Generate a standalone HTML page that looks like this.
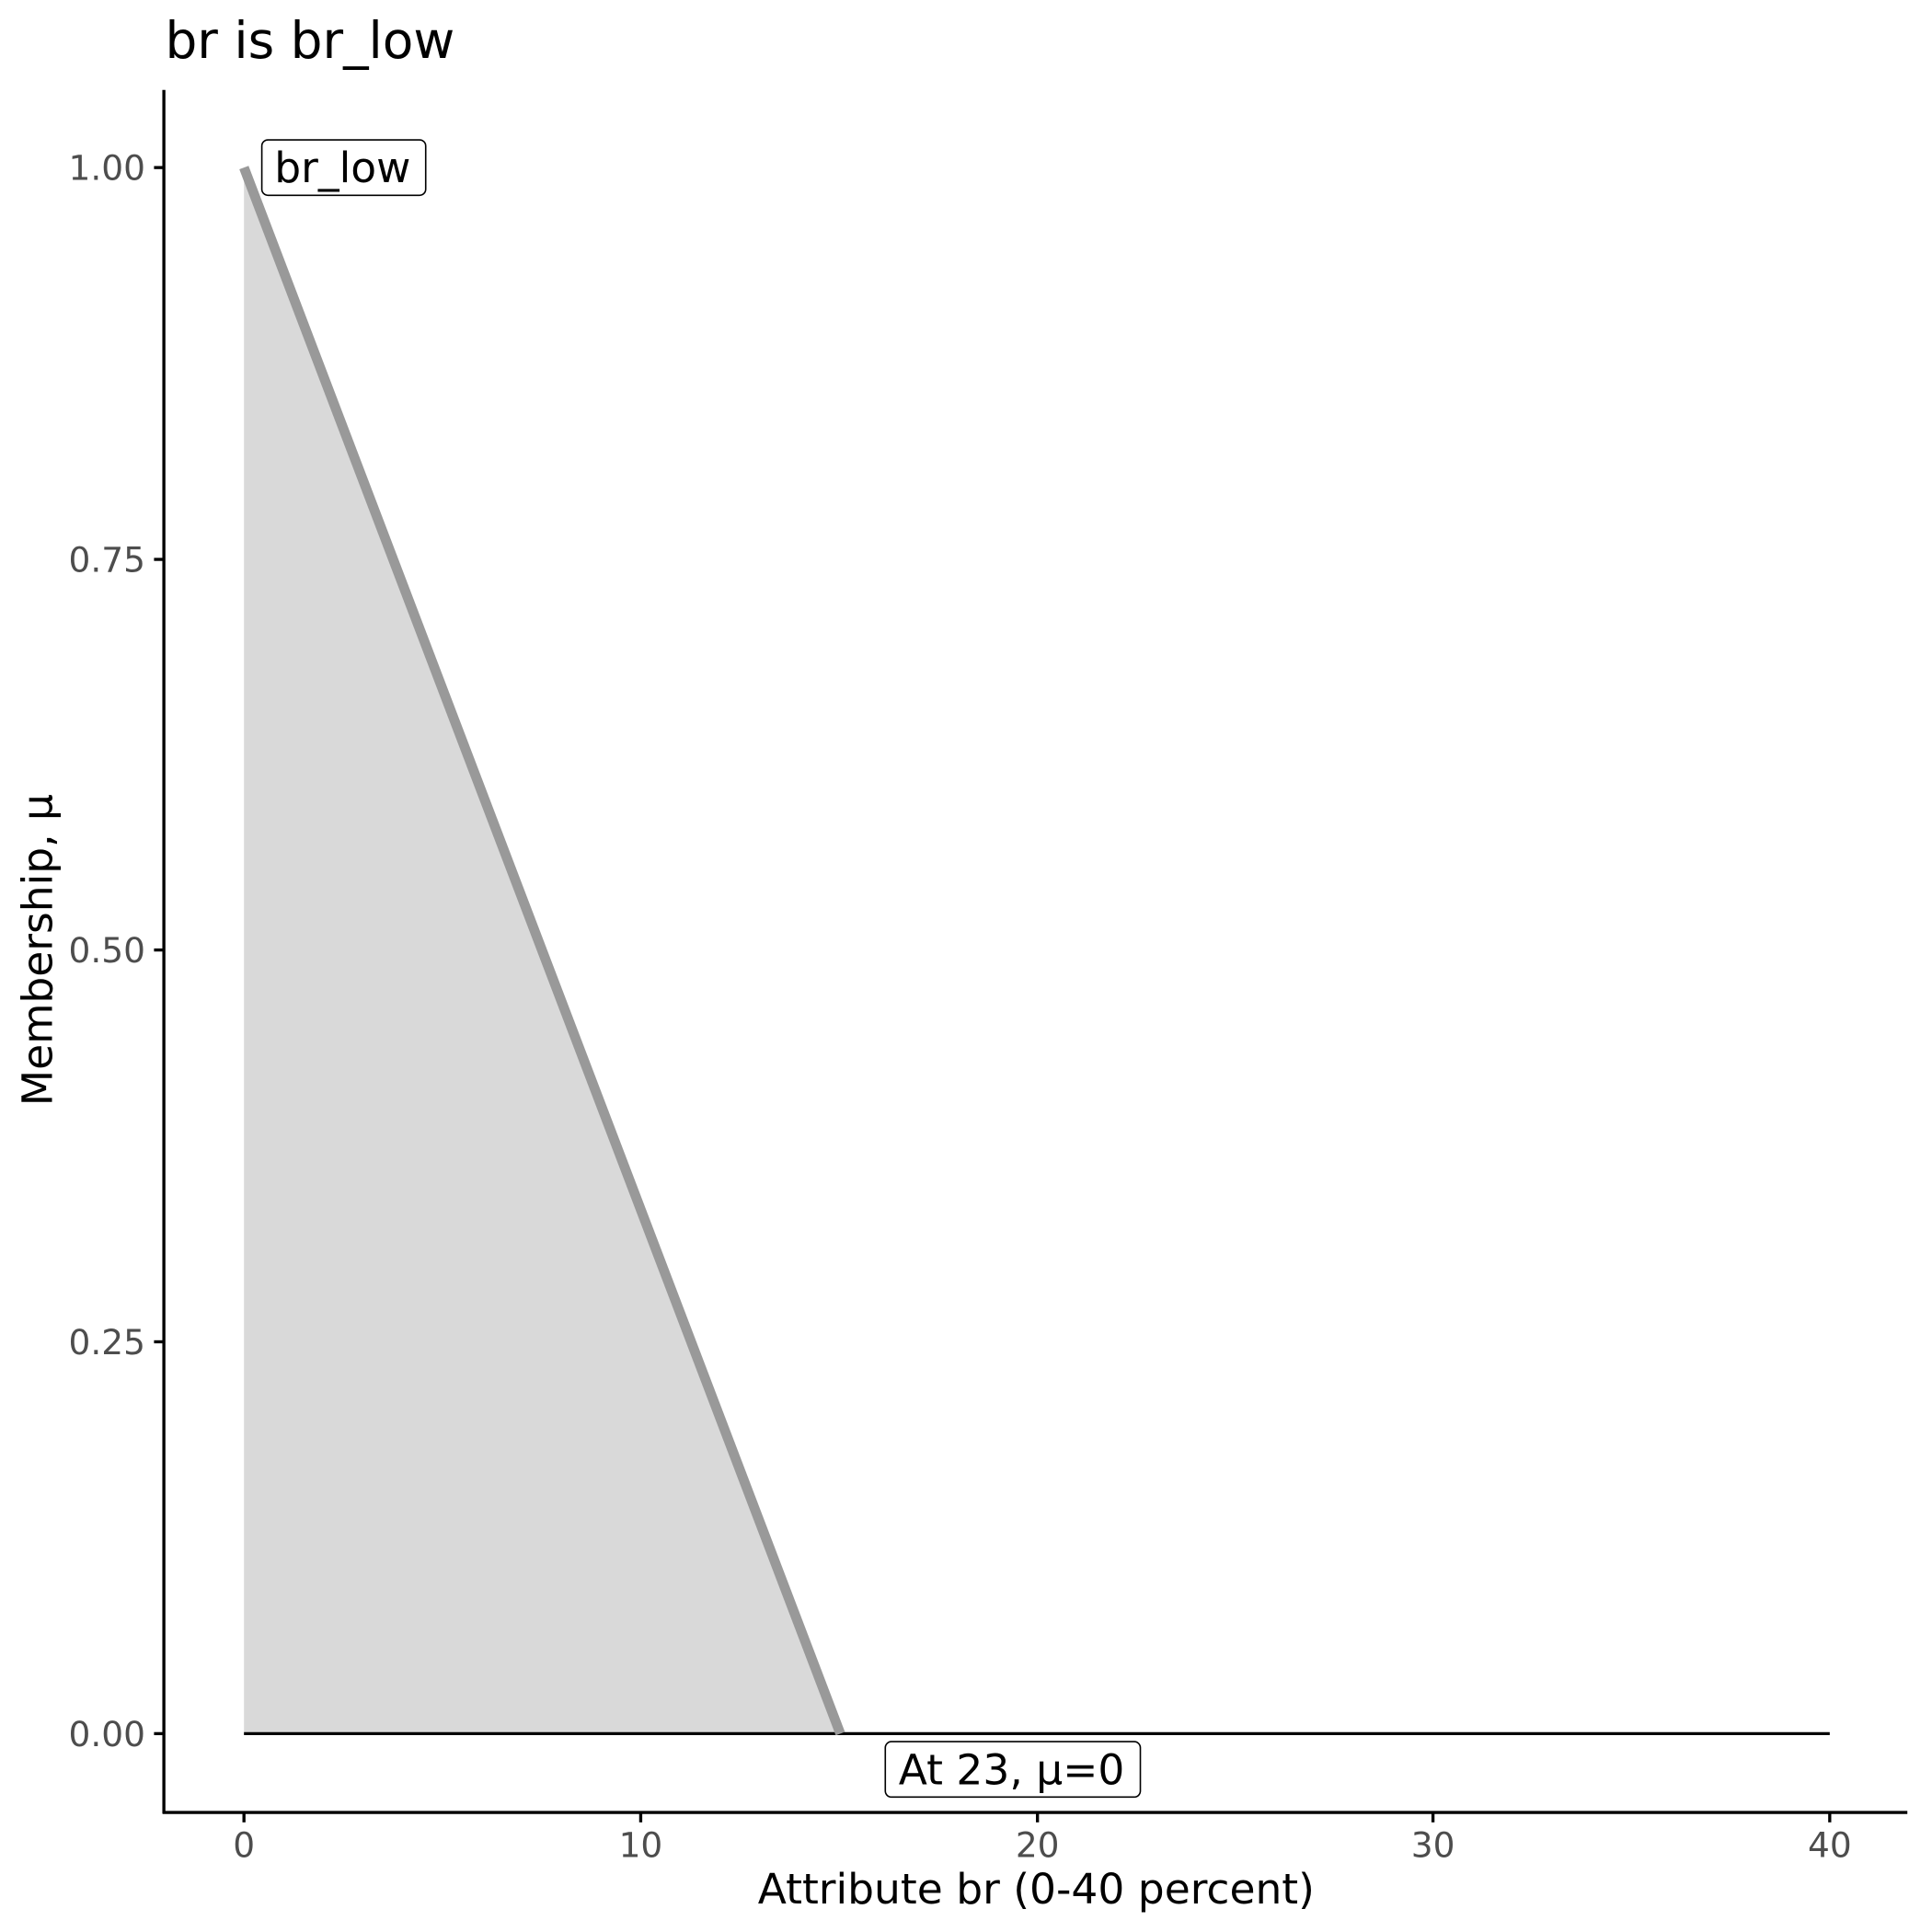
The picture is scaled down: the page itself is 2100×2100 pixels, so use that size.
<!DOCTYPE html>
<html><head><meta charset="utf-8"><style>
html,body{margin:0;padding:0;background:#fff}
svg{display:block}
</style></head><body>
<svg width="2100" height="2100" viewBox="0 0 1568 1568" xmlns="http://www.w3.org/2000/svg" font-family="DejaVu Sans, Liberation Sans, sans-serif">
<rect width="1568" height="1568" fill="#fff"/>
<text x="134" y="47" font-size="41" fill="#000">br is br_low</text>
<polygon points="198,136 682,1407 198,1407" fill="#d9d9d9"/>
<line x1="198" y1="1407" x2="1485" y2="1407" stroke="#000" stroke-width="2.5"/>
<line x1="198" y1="136" x2="682" y2="1407" stroke="#999" stroke-width="8"/>
<line x1="133" y1="73" x2="133" y2="1472" stroke="#000" stroke-width="2.5"/>
<line x1="132" y1="1471" x2="1548" y2="1471" stroke="#000" stroke-width="2.5"/>
<g stroke="#000" stroke-width="2.5">
<line x1="125" y1="136" x2="133" y2="136"/><line x1="125" y1="454" x2="133" y2="454"/>
<line x1="125" y1="771" x2="133" y2="771"/><line x1="125" y1="1089" x2="133" y2="1089"/>
<line x1="125" y1="1407" x2="133" y2="1407"/>
<line x1="198" y1="1471" x2="198" y2="1479"/><line x1="520" y1="1471" x2="520" y2="1479"/>
<line x1="842" y1="1471" x2="842" y2="1479"/><line x1="1163" y1="1471" x2="1163" y2="1479"/>
<line x1="1485" y1="1471" x2="1485" y2="1479"/>
</g>
<g font-size="28" fill="#4d4d4d" text-anchor="end">
<text x="118" y="146">1.00</text><text x="118" y="464">0.75</text>
<text x="118" y="781">0.50</text><text x="118" y="1099">0.25</text>
<text x="118" y="1417">0.00</text>
</g>
<g font-size="28" fill="#4d4d4d" text-anchor="middle">
<text x="198" y="1507">0</text><text x="520" y="1507">10</text>
<text x="842" y="1507">20</text><text x="1163" y="1507">30</text>
<text x="1485" y="1507">40</text>
</g>
<text x="841" y="1545" font-size="34" text-anchor="middle" fill="#000">Attribute br (0-40 percent)</text>
<text transform="translate(42,771) rotate(-90)" font-size="34" text-anchor="middle" fill="#000">Membership, μ</text>
<rect x="212.5" y="113.5" width="133" height="45" rx="5" fill="#fff" stroke="#000" stroke-width="1.2"/>
<text x="278" y="148" font-size="34" text-anchor="middle" fill="#000">br_low</text>
<rect x="718.5" y="1413.5" width="207" height="45" rx="5" fill="#fff" stroke="#000" stroke-width="1.2"/>
<text x="821" y="1448" font-size="34" text-anchor="middle" fill="#000">At 23, μ=0</text>
</svg>
</body></html>
